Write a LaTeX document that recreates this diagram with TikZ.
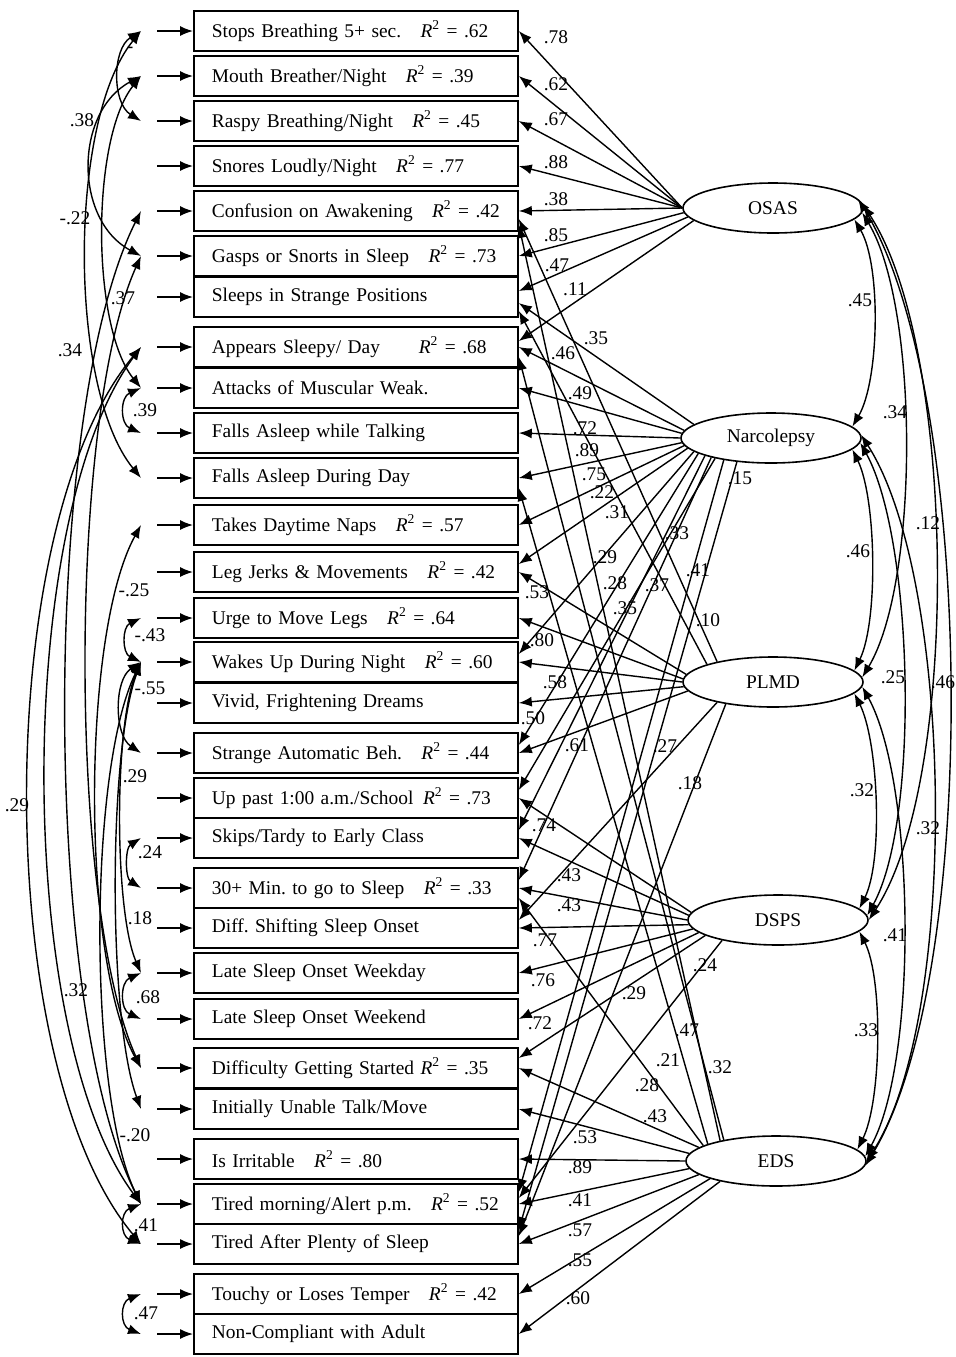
\documentclass[tikz,border=0pt]{standalone}
\usepackage{fontspec}
\setmainfont{Liberation Serif}
\usetikzlibrary{arrows.meta,shapes.geometric}
\newcommand{\rsq}[1]{\textit{R}\textsuperscript{2} = #1}
\frenchspacing

\begin{document}
\begin{tikzpicture}[x=0.5pt,y=-0.5pt,>={Latex[length=6.5pt,width=5pt]},
    every node/.style={font=\fontsize{9.7}{11}\selectfont},
    item/.style={draw,line width=0.9pt,anchor=west,minimum height=20pt,text width=144pt,inner xsep=9pt,inner ysep=0pt,align=left},
    factor/.style={draw,ellipse,line width=0.8pt,minimum width=90pt,minimum height=25pt,inner sep=0pt},
    load/.style={->,line width=0.7pt},
    cov/.style={<->,line width=0.7pt},
    coef/.style={inner sep=0.5pt}]
    \useasboundingbox (0,0) rectangle (956,1357);
    \fill[white] (0,0) rectangle (956,1357);
    % observed items
    \node[item] (r1) at (193,31) {Stops Breathing 5+ sec.\quad\rsq{.62}};
    \node[item] (r2) at (193,76) {Mouth Breather/Night\quad\rsq{.39}};
    \node[item] (r3) at (193,121) {Raspy Breathing/Night\quad\rsq{.45}};
    \node[item] (r4) at (193,166) {Snores Loudly/Night\quad\rsq{.77}};
    \node[item] (r5) at (193,211) {Confusion on Awakening\quad\rsq{.42}};
    \node[item] (r6) at (193,256) {Gasps or Snorts in Sleep\quad\rsq{.73}};
    \node[item] (r7) at (193,297) {Sleeps in Strange Positions};
    \node[item] (r8) at (193,347) {Appears Sleepy/ Day\qquad\rsq{.68}};
    \node[item] (r9) at (193,388) {Attacks of Muscular Weak.};
    \node[item] (r10) at (193,433) {Falls Asleep while Talking};
    \node[item] (r11) at (193,478) {Falls Asleep During Day};
    \node[item] (r12) at (193,525) {Takes Daytime Naps\quad\rsq{.57}};
    \node[item] (r13) at (193,572) {Leg Jerks \& Movements\quad\rsq{.42}};
    \node[item] (r14) at (193,618) {Urge to Move Legs\quad\rsq{.64}};
    \node[item] (r15) at (193,662) {Wakes Up During Night\quad\rsq{.60}};
    \node[item] (r16) at (193,703) {Vivid, Frightening Dreams};
    \node[item] (r17) at (193,753) {Strange Automatic Beh.\quad\rsq{.44}};
    \node[item] (r18) at (193,798) {Up past 1:00 a.m./School\enspace\rsq{.73}};
    \node[item] (r19) at (193,838) {Skips/Tardy to Early Class};
    \node[item] (r20) at (193,888) {30+ Min. to go to Sleep\quad\rsq{.33}};
    \node[item] (r21) at (193,928) {Diff. Shifting Sleep Onset};
    \node[item] (r22) at (193,973) {Late Sleep Onset Weekday};
    \node[item] (r23) at (193,1019) {Late Sleep Onset Weekend};
    \node[item] (r24) at (193,1068) {Difficulty Getting Started \rsq{.35}};
    \node[item] (r25) at (193,1109) {Initially Unable Talk/Move};
    \node[item] (r26) at (193,1159) {Is Irritable\quad\rsq{.80}};
    \node[item] (r27) at (193,1204) {Tired morning/Alert p.m.\quad\rsq{.52}};
    \node[item] (r28) at (193,1244) {Tired After Plenty of Sleep};
    \node[item] (r29) at (193,1294) {Touchy or Loses Temper\quad\rsq{.42}};
    \node[item] (r30) at (193,1334) {Non-Compliant with Adult};
    % latent factors
    \node[factor] (osas) at (773,208) {OSAS};
    \node[factor] (narc) at (771,438) {Narcolepsy};
    \node[factor] (plmd) at (773,682) {PLMD};
    \node[factor] (dsps) at (778,920) {DSPS};
    \node[factor] (eds) at (776,1161) {EDS};
    % error terms
    \foreach \i in {1,...,30}
        \draw[load] ([xshift=-18pt]r\i.west) -- (r\i.west);
    % correlated errors
    \draw[cov] ([xshift=-26pt]r1.west) .. controls +(-29,18) and +(-29,-18) .. ([xshift=-26pt]r3.west);
    \node[coef] (k1) at (130,50) {-};
    \draw[cov] ([xshift=-26pt]r2.west) .. controls +(-67,36) and +(-67,-36) .. ([xshift=-26pt]r6.west);
    \node[coef] (k2) at (82,120) {.38};
    \draw[cov] ([xshift=-26pt]r1.west) .. controls +(-73,89) and +(-73,-89) .. ([xshift=-26pt]r11.west);
    \node[coef] (k3) at (75,218) {-.22};
    \draw[cov] ([xshift=-26pt]r2.west) .. controls +(-50,62) and +(-50,-62) .. ([xshift=-26pt]r9.west);
    \draw[cov] ([xshift=-26pt]r9.west) .. controls +(-21,9) and +(-21,-9) .. ([xshift=-26pt]r10.west);
    \node[coef] (k4) at (145,410) {.39};
    \draw[cov] ([xshift=-26pt]r5.west) .. controls +(-100,199) and +(-100,-199) .. ([xshift=-26pt]r27.west);
    \node[coef] (k5) at (70,350) {.34};
    \draw[cov] ([xshift=-26pt]r6.west) .. controls +(-73,162) and +(-73,-162) .. ([xshift=-26pt]r24.west);
    \node[coef] (k6) at (123,298) {.37};
    \draw[cov] ([xshift=-26pt]r8.west) .. controls +(-150,179) and +(-150,-179) .. ([xshift=-26pt]r28.west);
    \node[coef] (k7) at (17,805) {.29};
    \draw[cov] ([xshift=-26pt]r8.west) .. controls +(-127,171) and +(-127,-171) .. ([xshift=-26pt]r27.west);
    \node[coef] (k8) at (76,990) {.32};
    \draw[cov] ([xshift=-26pt]r12.west) .. controls +(-60,109) and +(-60,-109) .. ([xshift=-26pt]r24.west);
    \node[coef] (k9) at (134,590) {-.25};
    \draw[cov] ([xshift=-26pt]r15.west) .. controls +(-53,108) and +(-53,-108) .. ([xshift=-26pt]r27.west);
    \node[coef] (k10) at (135,1135) {-.20};
    \draw[cov] ([xshift=-26pt]r14.west) .. controls +(-19,9) and +(-19,-9) .. ([xshift=-26pt]r15.west);
    \node[coef] (k11) at (150,635) {-.43};
    \draw[cov] ([xshift=-26pt]r15.west) .. controls +(-27,18) and +(-27,-18) .. ([xshift=-26pt]r17.west);
    \node[coef] (k12) at (150,688) {-.55};
    \draw[cov] ([xshift=-26pt]r15.west) .. controls +(-33,89) and +(-33,-89) .. ([xshift=-26pt]r25.west);
    \node[coef] (k13) at (135,776) {.29};
    \draw[cov] ([xshift=-26pt]r19.west) .. controls +(-16,10) and +(-16,-10) .. ([xshift=-26pt]r20.west);
    \node[coef] (k14) at (150,852) {.24};
    \draw[cov] ([xshift=-26pt]r15.west) .. controls +(-27,62) and +(-27,-62) .. ([xshift=-26pt]r22.west);
    \node[coef] (k15) at (140,918) {.18};
    \draw[cov] ([xshift=-26pt]r22.west) .. controls +(-21,9) and +(-21,-9) .. ([xshift=-26pt]r23.west);
    \node[coef] (k16) at (148,997) {.68};
    \draw[cov] ([xshift=-26pt]r27.west) .. controls +(-21,8) and +(-21,-8) .. ([xshift=-26pt]r28.west);
    \node[coef] (k17) at (146,1225) {.41};
    \draw[cov] ([xshift=-26pt]r29.west) .. controls +(-21,8) and +(-21,-8) .. ([xshift=-26pt]r30.west);
    \node[coef] (k18) at (146,1313) {.47};
    % OSAS loadings
    \draw[load] (osas.180) -- (r1.east); \node[coef] (l1) at (556,37) {.78};
    \draw[load] (osas.180) -- (r2.east); \node[coef] (l2) at (556,84) {.62};
    \draw[load] (osas.180) -- (r3.east); \node[coef] (l3) at (556,119) {.67};
    \draw[load] (osas.180) -- (r4.east); \node[coef] (l4) at (556,162) {.88};
    \draw[load] (osas.180) -- (r5.east); \node[coef] (l5) at (556,199) {.38};
    \draw[load] (osas.183) -- (r6.east); \node[coef] (l6) at (556,235) {.85};
    \draw[load] (osas.186) -- ([yshift=3pt]r7.east); \node[coef] (l7) at (557,265) {.47};
    \draw[load] (osas.189) -- ([yshift=3pt]r8.east); \node[coef] (l8) at (575,289) {.11};
    % Narcolepsy loadings
    \draw[load] (narc.170) -- ([yshift=-3pt]r7.east); \node[coef] (l9) at (596,338) {.35};
    \draw[load] (narc.175) -- (r8.east); \node[coef] (l10) at (563,353) {.46};
    \draw[load] (narc.177) -- (r9.east); \node[coef] (l11) at (580,393) {.49};
    \draw[load] (narc.180) -- (r10.east); \node[coef] (l12) at (585,428) {.72};
    \draw[load] (narc.183) -- (r11.east); \node[coef] (l13) at (587,450) {.89};
    \draw[load] (narc.185) -- (r12.east); \node[coef] (l14) at (594,474) {.75};
    \draw[load] (narc.187) -- ([yshift=4pt]r13.east); \node[coef] (l15) at (602,492) {.22};
    \draw[load] (narc.190) -- ([yshift=4pt]r15.east); \node[coef] (l16) at (605,557) {.29};
    \draw[load] (narc.192) -- ([yshift=4pt]r17.east); \node[coef] (l17) at (615,583) {.28};
    \draw[load] (narc.195) -- ([yshift=4pt]r19.east); \node[coef] (l18) at (625,608) {.35};
    \draw[load] (narc.198) -- ([yshift=4pt]r20.east); \node[coef] (l19) at (657,585) {.37};
    \draw[load] (narc.200) -- ([yshift=4pt]r18.east); \node[coef] (l20) at (677,533) {.33};
    \draw[load] (narc.205) -- ([yshift=6pt]r27.east); \node[coef] (l21) at (698,570) {.41};
    \draw[load] (narc.215) -- ([yshift=7pt]r28.east); \node[coef] (l22) at (740,478) {.15};
    % PLMD loadings
    \draw[load] (plmd.175) -- (r13.east); \node[coef] (l23) at (537,592) {.53};
    \draw[load] (plmd.178) -- (r14.east); \node[coef] (l24) at (542,640) {.80};
    \draw[load] (plmd.180) -- (r15.east); \node[coef] (l25) at (555,682) {.58};
    \draw[load] (plmd.183) -- (r16.east); \node[coef] (l26) at (533,718) {.50};
    \draw[load] (plmd.186) -- (r17.east); \node[coef] (l27) at (577,745) {.61};
    \draw[load] (plmd.160) -- ([yshift=-4pt]r5.east); \node[coef] (l28) at (708,620) {.10};
    \draw[load] (plmd.165) -- ([yshift=-7pt]r7.east); \node[coef] (l29) at (617,512) {.31};
    \draw[load] (plmd.200) -- ([yshift=4pt]r21.east); \node[coef] (l30) at (665,746) {.27};
    \draw[load] (plmd.205) -- ([yshift=4pt]r28.east); \node[coef] (l31) at (690,783) {.18};
    % DSPS loadings
    \draw[load] (dsps.175) -- (r18.east); \node[coef] (l32) at (544,825) {.74};
    \draw[load] (dsps.177) -- (r19.east); \node[coef] (l33) at (569,875) {.43};
    \draw[load] (dsps.180) -- (r20.east); \node[coef] (l34) at (569,905) {.43};
    \draw[load] (dsps.183) -- (r21.east); \node[coef] (l35) at (545,940) {.77};
    \draw[load] (dsps.186) -- (r22.east); \node[coef] (l36) at (543,980) {.76};
    \draw[load] (dsps.189) -- (r23.east); \node[coef] (l37) at (540,1023) {.72};
    \draw[load] (dsps.192) -- ([yshift=5pt]r24.east); \node[coef] (l38) at (634,993) {.29};
    \draw[load] (dsps.200) -- ([yshift=3pt]r27.east); \node[coef] (l39) at (705,965) {.24};
    % EDS loadings
    \draw[load] (eds.170) -- (r24.east); \node[coef] (l40) at (655,1116) {.43};
    \draw[load] (eds.175) -- (r25.east); \node[coef] (l41) at (585,1137) {.53};
    \draw[load] (eds.180) -- (r26.east); \node[coef] (l42) at (580,1167) {.89};
    \draw[load] (eds.185) -- (r27.east); \node[coef] (l43) at (580,1200) {.41};
    \draw[load] (eds.190) -- (r28.east); \node[coef] (l44) at (580,1230) {.57};
    \draw[load] (eds.195) -- (r29.east); \node[coef] (l45) at (580,1260) {.55};
    \draw[load] (eds.200) -- (r30.east); \node[coef] (l46) at (578,1298) {.60};
    \draw[load] (eds.160) -- ([yshift=-7pt]r5.east); \node[coef] (l47) at (720,1067) {.32};
    \draw[load] (eds.158) -- ([yshift=-5pt]r8.east); \node[coef] (l48) at (687,1030) {.47};
    \draw[load] (eds.166) -- ([yshift=-5pt]r11.east); \node[coef] (l49) at (668,1060) {.21};
    \draw[load] (eds.168) -- ([yshift=-5pt]r20.east); \node[coef] (l50) at (647,1085) {.28};
    % factor correlations
    \draw[cov] (osas.-8) .. controls +(27,46) and +(27,-46) .. (narc.8); \node[coef] (f1) at (860,300) {.45};
    \draw[cov] (osas.-3) .. controls +(57,95) and +(57,-95) .. (plmd.3); \node[coef] (f2) at (895,412) {.34};
    \draw[cov] (osas.2) .. controls +(93,142) and +(93,-142) .. (dsps.0); \node[coef] (f3) at (928,523) {.12};
    \draw[cov] (osas.6) .. controls +(117,190) and +(117,-190) .. (eds.-3); \node[coef] (f4) at (943,682) {.46};
    \draw[cov] (narc.-8) .. controls +(24,49) and +(24,-49) .. (plmd.8); \node[coef] (f5) at (858,551) {.46};
    \draw[cov] (narc.-3) .. controls +(53,96) and +(53,-96) .. (dsps.3); \node[coef] (f6) at (893,677) {.25};
    \draw[cov] (narc.2) .. controls +(93,145) and +(93,-145) .. (eds.0); \node[coef] (f7) at (928,828) {.32};
    \draw[cov] (plmd.-8) .. controls +(24,48) and +(24,-48) .. (dsps.8); \node[coef] (f8) at (862,790) {.32};
    \draw[cov] (plmd.-3) .. controls +(53,96) and +(53,-96) .. (eds.3); \node[coef] (f9) at (895,935) {.41};
    \draw[cov] (dsps.-8) .. controls +(24,48) and +(24,-48) .. (eds.8); \node[coef] (f10) at (866,1030) {.33};
\end{tikzpicture}
\end{document}
